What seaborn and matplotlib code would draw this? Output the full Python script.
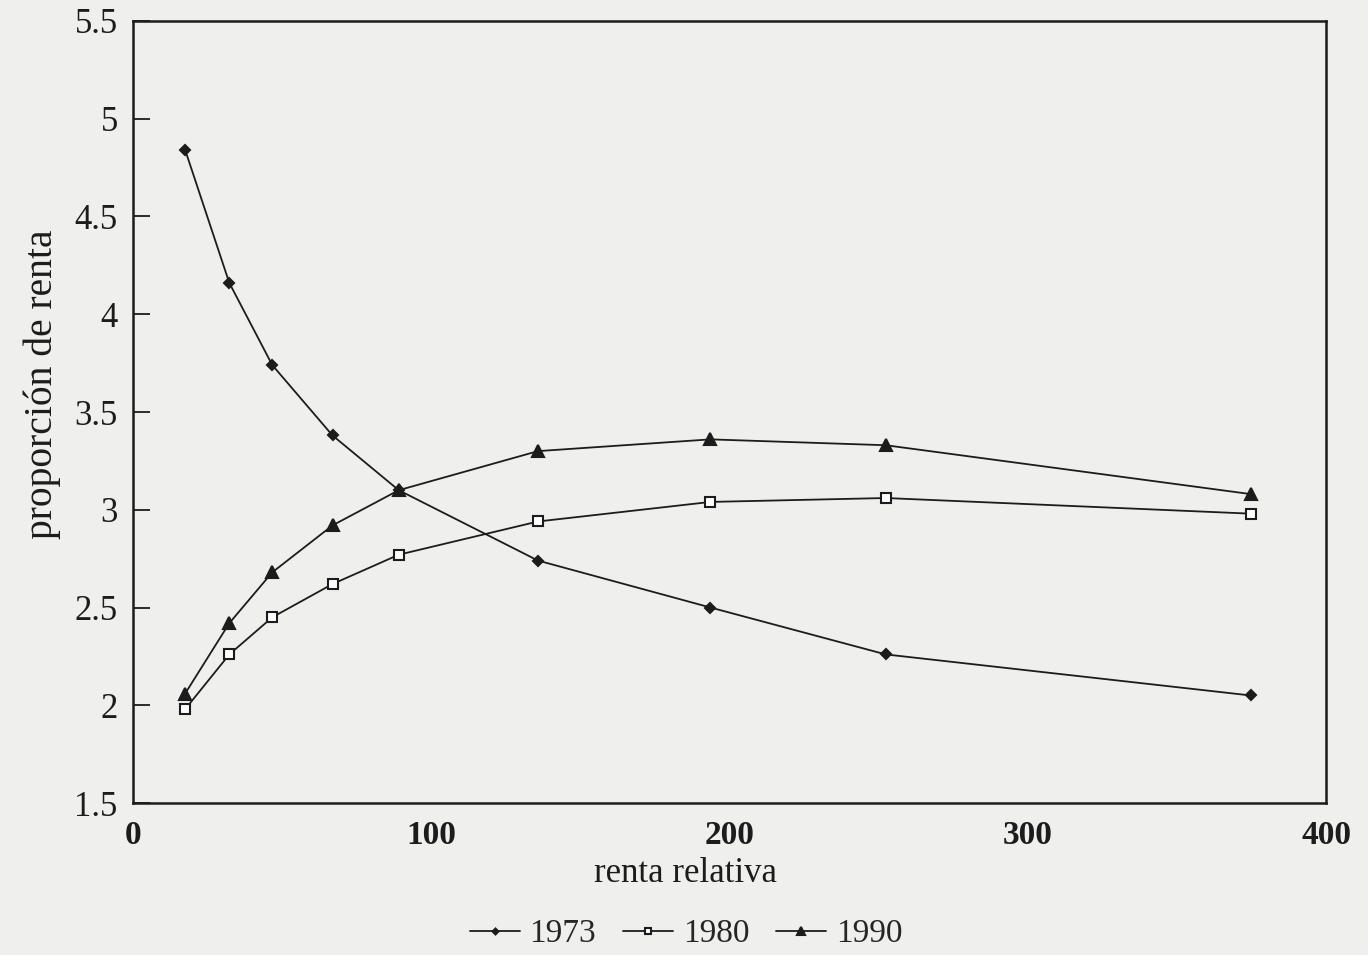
import matplotlib
matplotlib.use("Agg")
import matplotlib.pyplot as plt
import seaborn as sns
import pandas as pd
import numpy as np

renta_relativa = [17.5, 32.3, 46.7, 66.9, 89.1, 135.8, 193.6, 252.4, 374.8]
serie_1973 = [4.84, 4.16, 3.74, 3.38, 3.10, 2.74, 2.50, 2.26, 2.05]
serie_1980 = [1.98, 2.26, 2.45, 2.62, 2.77, 2.94, 3.04, 3.06, 2.98]
serie_1990 = [2.06, 2.42, 2.68, 2.92, 3.10, 3.30, 3.36, 3.33, 3.08]
years = ["1973", "1980", "1990"]
x_ticks = [0, 100, 200, 300, 400]
y_ticks = [1.5, 2, 2.5, 3, 3.5, 4, 4.5, 5, 5.5]
y_tick_labels = ["1.5", "2", "2.5", "3", "3.5", "4", "4.5", "5", "5.5"]

df = pd.DataFrame({
    "renta": renta_relativa * 3,
    "prop": serie_1973 + serie_1980 + serie_1990,
    "year": [years[0]] * 9 + [years[1]] * 9 + [years[2]] * 9,
})

sns.set_theme(style="white")
plt.rcParams['font.family'] = ['Liberation Serif', 'DejaVu Serif']
bg = "#efefed"
ink = "#1c1c1c"
fig = plt.figure(figsize=(13.68, 9.55), dpi=100, facecolor=bg)
L, R, T, B = 133, 1326, 21, 803
ax = fig.add_axes([L / 1368, 1 - B / 955, (R - L) / 1368, (B - T) / 955])
ax.set_facecolor(bg)

markers = {"1973": "D", "1980": "s", "1990": "^"}
sizes = {"1973": 5, "1980": 6.5, "1990": 9}
faces = {"1973": ink, "1980": "white", "1990": ink}
for yr in years:
    sub = df[df["year"] == yr]
    sns.lineplot(data=sub, x="renta", y="prop", ax=ax, color=ink, lw=1.3,
                 marker=markers[yr], markersize=sizes[yr], markerfacecolor=faces[yr],
                 markeredgecolor=ink, markeredgewidth=1.5, label=yr)

ax.set_xlim(0, 400)
ax.set_ylim(1.5, 5.5)
ax.set_xticks(x_ticks)
ax.set_xticklabels([str(t) for t in x_ticks], fontsize=24, fontweight="bold")
ax.set_yticks(y_ticks)
ax.set_yticklabels(y_tick_labels, fontsize=25)
ax.tick_params(axis="y", left=True, right=False, direction="in", length=12, width=1.3,
               colors=ink, pad=11)
ax.tick_params(axis="x", bottom=True, direction="in", length=0, colors=ink, pad=12)
for s in ax.spines.values():
    s.set_color(ink)
    s.set_linewidth(1.8)
ax.set_xlabel("renta relativa", fontsize=25, color=ink, va="center")
ax.xaxis.set_label_coords((686 - L) / (R - L), -(873 - B) / (B - T))
ax.set_ylabel("proporción de renta", fontsize=28.5, color=ink, va="center")
ax.yaxis.set_label_coords(-(133 - 42) / (R - L), (B - 384) / (B - T))

leg = ax.legend(loc="center", bbox_to_anchor=((686 - L) / (R - L), -(934 - B) / (B - T)),
                ncol=3, frameon=False, fontsize=24, handlelength=1.5, handletextpad=0.3,
                columnspacing=0.8, markerscale=0.6)
fig.savefig("out.png", dpi=100, facecolor=bg)
